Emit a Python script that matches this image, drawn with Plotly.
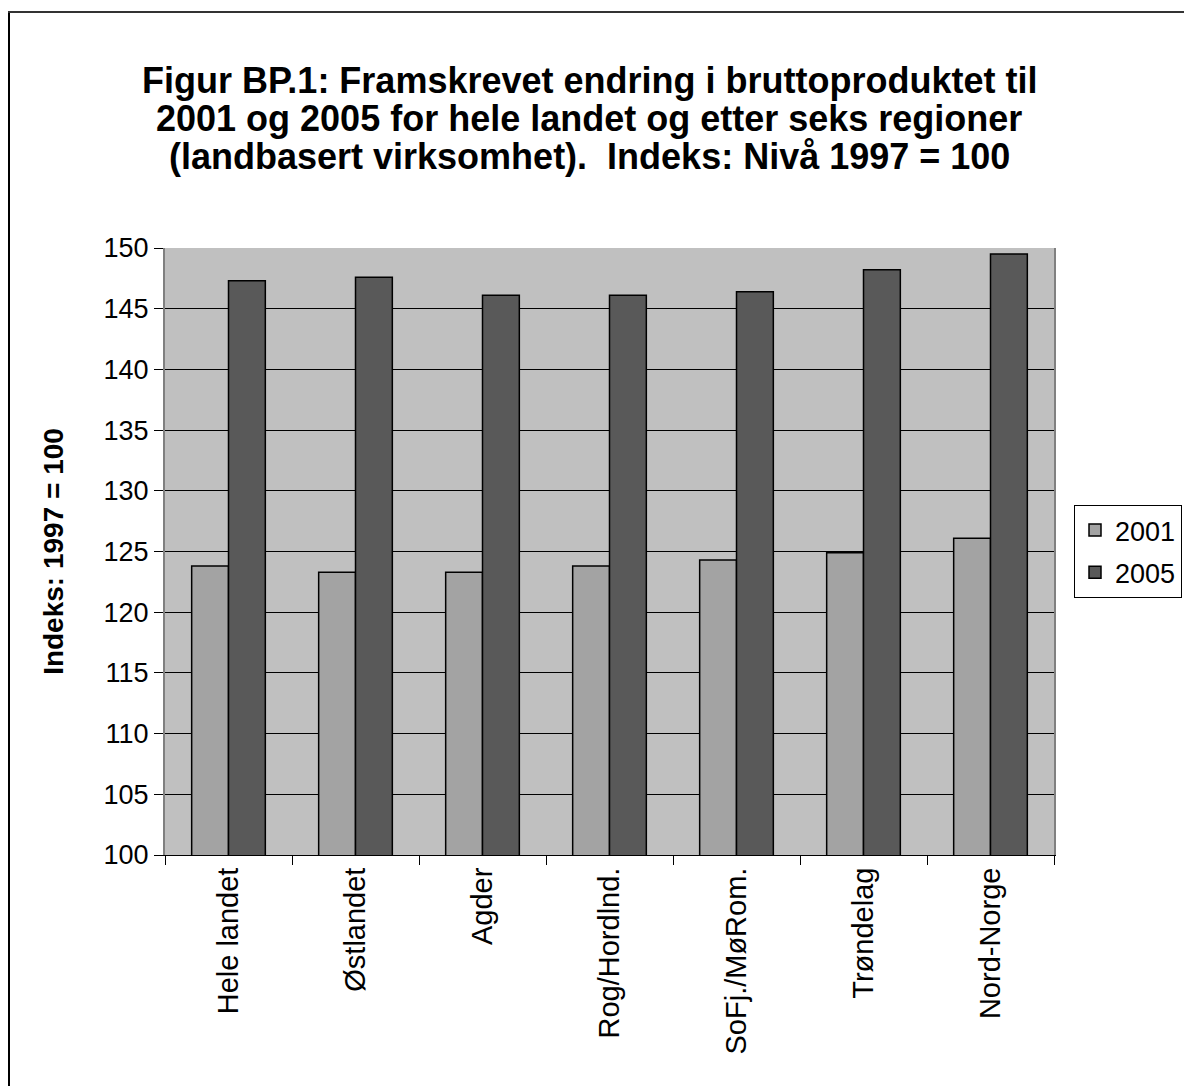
import plotly.graph_objects as go

regions = ["Hele landet", "Østlandet", "Agder", "Rog/Hordlnd.", "SoFj./MøRom.", "Trøndelag", "Nord-Norge"]
idx_2001 = [123.8, 123.3, 123.3, 123.8, 124.3, 124.9, 126.1]
idx_2005 = [147.3, 147.6, 146.1, 146.1, 146.4, 148.2, 149.5]
y_ticks = list(range(100, 151, 5))
title_lines = [
    "Figur BP.1: Framskrevet endring i bruttoproduktet til",
    "2001 og 2005 for hele landet og etter seks regioner",
    "(landbasert virksomhet).  Indeks: Nivå 1997 = 100",
]

W, H = 1184, 1086
L, T = 165, 248
R, B = W - 1054, H - 855
pw, ph = W - L - R, H - T - B


def px_x(p):
    return (p - L) / pw


def px_y(p):
    return (H - B - p) / ph


fig = go.Figure()
fig.add_trace(go.Bar(
    x=regions, y=idx_2001, name="2001", legendgroup="a",
    marker=dict(color="#a3a3a3", line=dict(color="black", width=1.5)),
))
fig.add_trace(go.Bar(
    x=regions, y=idx_2005, name="2005", legendgroup="b",
    marker=dict(color="#595959", line=dict(color="black", width=1.5)),
))

# title, one annotation per line to keep the tight line spacing
for i, line in enumerate(title_lines):
    fig.add_annotation(
        text=f"<b>{line}</b>", showarrow=False,
        xref="paper", yref="paper",
        x=px_x(589), xanchor="center",
        y=px_y(80 + i * 38.5), yanchor="middle",
        font=dict(size=36),
    )

fig.update_layout(
    width=W, height=H,
    margin=dict(l=L, r=R, t=T, b=B, autoexpand=False),
    paper_bgcolor="white",
    plot_bgcolor="#c0c0c0",
    font=dict(family="Liberation Sans, Arial, sans-serif", size=27, color="black"),
    barmode="group",
    bargap=0.42,
    bargroupgap=0,
    legend=dict(
        x=px_x(1074), xanchor="left",
        y=px_y(505), yanchor="top",
        bgcolor="white", bordercolor="black", borderwidth=1,
        font=dict(size=27),
        tracegroupgap=4,
    ),
    shapes=[
        dict(type="line", xref="paper", yref="paper",
             x0=px_x(9), x1=px_x(9), y0=px_y(1200), y1=px_y(11),
             line=dict(color="black", width=2), layer="below"),
        dict(type="line", xref="paper", yref="paper",
             x0=px_x(8), x1=px_x(1300), y0=px_y(12), y1=px_y(12),
             line=dict(color="#333333", width=2), layer="below"),
    ],
)

fig.update_xaxes(
    showline=True, linecolor="black", linewidth=1,
    ticks="outside", ticklen=9, tickcolor="black", tickson="boundaries",
    tickangle=-90, tickfont=dict(size=29),
)
fig.update_yaxes(
    range=[100, 150], tickvals=y_ticks,
    showline=True, linecolor="#808080", linewidth=2, mirror=True,
    ticks="outside", ticklen=9, tickcolor="black",
    showgrid=True, gridcolor="black", gridwidth=1,
    tickfont=dict(size=27),
    title=dict(text="<b>Indeks: 1997 = 100</b>", font=dict(size=28), standoff=32),
)

# drop the default page margin so the figure fills the window exactly
fig.write_html(
    "out.html",
    config={"displayModeBar": False},
    post_script="document.body.style.margin='0';document.body.style.overflow='hidden';",
)
